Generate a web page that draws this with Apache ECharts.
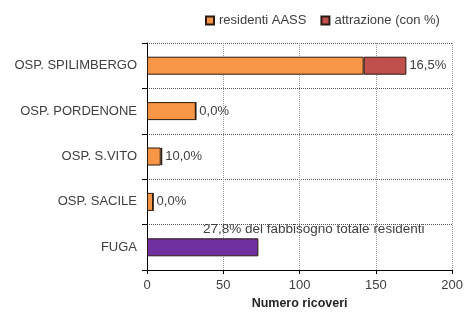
<!DOCTYPE html>
<html>
<head>
<meta charset="utf-8">
<script src="https://cdn.jsdelivr.net/npm/echarts@6/dist/echarts.min.js"></script>
<style>
  html, body { margin: 0; padding: 0; background: #fff; }
  #chart { width: 466px; height: 320px; }
</style>
</head>
<body>
<div id="chart"></div>
<script>
// categorie (dall'alto verso il basso)
const categories = ['OSP. SPILIMBERGO', 'OSP. PORDENONE', 'OSP. S.VITO', 'OSP. SACILE', 'FUGA'];
const residenti = [142, 32, 9, 4, 73];
const attrazione = [28, 0, 1, 0, 0];
const percLabels = ['16,5%', '0,0%', '10,0%', '0,0%', ''];
const fugaLabel = '27,8% del fabbisogno totale residenti';
const xTicks = [0, 50, 100, 150, 200];

const FONT = '"Liberation Sans", Arial, sans-serif';
const chart = echarts.init(document.getElementById('chart'));

const resData = residenti.map((v, i) => {
  if (categories[i] === 'FUGA') {
    return {
      value: v,
      itemStyle: { color: '#7030A0' },
      label: {
        show: true,
        position: [56, -16],
        formatter: fugaLabel,
        color: '#404040',
        fontSize: 13.5,
        fontFamily: FONT
      }
    };
  }
  return v;
});

const attrData = attrazione.map((v, i) => {
  if (categories[i] === 'FUGA') return { value: '-' };
  return v;
});

const option = {
  animation: false,
  textStyle: { fontFamily: FONT },
  legend: {
    top: 9,
    left: 200,
    itemWidth: 8,
    itemHeight: 8,
    itemGap: 14,
    icon: 'rect',
    textStyle: { fontSize: 13, color: '#404040', fontFamily: FONT },
    data: ['residenti AASS', 'attrazione (con %)']
  },
  grid: { left: 147, right: 13, top: 43, bottom: 50 },
  xAxis: {
    type: 'value',
    min: xTicks[0],
    max: xTicks[xTicks.length - 1],
    interval: 50,
    name: 'Numero ricoveri',
    nameLocation: 'middle',
    nameGap: 27,
    nameTextStyle: { fontSize: 12.5, fontWeight: 'bold', color: '#262626', fontFamily: FONT },
    axisLine: { show: true, lineStyle: { color: '#000', width: 1 } },
    axisTick: { show: true, length: 4, lineStyle: { color: '#000' } },
    axisLabel: { fontSize: 13, color: '#404040', margin: 9, fontFamily: FONT },
    splitLine: { show: true, lineStyle: { type: 'dotted', color: '#999', width: 1 } }
  },
  yAxis: {
    type: 'category',
    inverse: true,
    data: categories,
    axisLine: { show: true, lineStyle: { color: '#000', width: 1 } },
    axisTick: { show: true, length: 5, lineStyle: { color: '#000' } },
    axisLabel: { fontSize: 13, color: '#404040', margin: 10, fontFamily: FONT },
    splitLine: { show: true, lineStyle: { type: 'dotted', color: '#555', width: 1 } }
  },
  series: [
    {
      name: 'residenti AASS',
      type: 'bar',
      stack: 'tot',
      barWidth: 18,
      itemStyle: { color: '#F79646', borderColor: '#2b1a10', borderWidth: 1 },
      data: resData
    },
    {
      name: 'attrazione (con %)',
      type: 'bar',
      stack: 'tot',
      barWidth: 18,
      itemStyle: { color: '#C0504D', borderColor: '#2b1a10', borderWidth: 1 },
      label: {
        show: true,
        position: 'right',
        distance: 3,
        color: '#404040',
        fontSize: 13,
        fontFamily: FONT,
        formatter: (p) => percLabels[p.dataIndex]
      },
      data: attrData
    }
  ]
};
chart.setOption(option);
</script>
</body>
</html>
